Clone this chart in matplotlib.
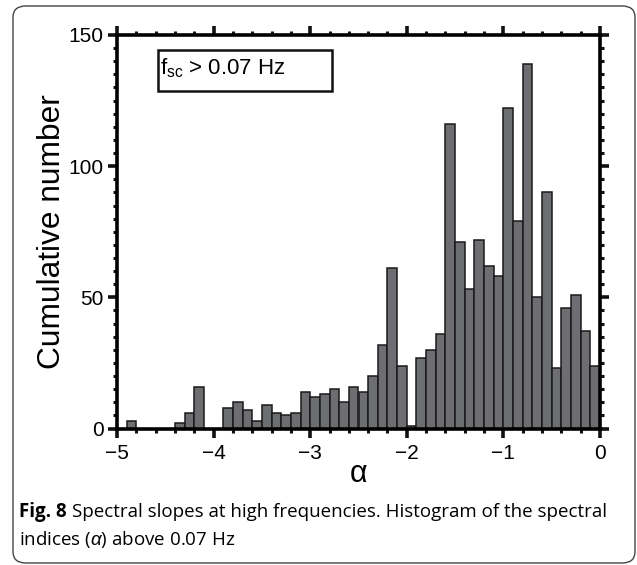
import matplotlib
matplotlib.use("Agg")
import matplotlib.pyplot as plt
import numpy as np
from matplotlib.patches import FancyBboxPatch, Rectangle
from matplotlib.ticker import MultipleLocator

plt.rcParams['font.family'] = ['Liberation Sans', 'DejaVu Sans']
plt.rcParams['mathtext.fontset'] = 'custom'
plt.rcParams['mathtext.rm'] = 'Liberation Sans'
plt.rcParams['mathtext.it'] = 'Liberation Sans:italic'
plt.rcParams['mathtext.bf'] = 'Liberation Sans:bold'

# Histogram of spectral slopes alpha: bins of width 0.1 from -5 to 0
bin_edges = np.round(np.arange(-5.0, 0.0001, 0.1), 2)
counts = [0, 3, 0, 0, 0, 0, 2, 6, 16, 0,
          0, 8, 10, 7, 3, 9, 6, 5, 6, 14,
          12, 13, 15, 10, 16, 14, 20, 32, 61, 24,
          1, 27, 30, 36, 116, 71, 53, 72, 62, 58,
          122, 79, 139, 50, 90, 23, 46, 51, 37, 24]
x_ticks = [-5, -4, -3, -2, -1, 0]
x_ticklabels = ['\u22125', '\u22124', '\u22123', '\u22122', '\u22121', '0']
y_ticks = [0, 50, 100, 150]

W, H = 637, 565
fig = plt.figure(figsize=(W / 100, H / 100), dpi=100)

# outer rounded frame
frame = FancyBboxPatch((13 / W, 1 - 563 / H), (635 - 13) / W, (563 - 6) / H,
                       boxstyle="round,pad=0,rounding_size=0.02",
                       transform=fig.transFigure, facecolor='none',
                       edgecolor='#444444', linewidth=1.0)
fig.patches.append(frame)

ax = fig.add_axes([117 / W, 1 - 428.5 / H, (600 - 117) / W, (428.5 - 35) / H])
ax.bar(bin_edges[:-1], counts, width=0.1, align='edge',
       color='#6d6e72', edgecolor='#1a1a1a', linewidth=1.1)

ax.set_xlim(-5, 0)
ax.set_ylim(0, 150)
ax.set_xticks(x_ticks)
ax.set_xticklabels(x_ticklabels)
ax.set_yticks(y_ticks)
ax.xaxis.set_minor_locator(MultipleLocator(0.2))
ax.yaxis.set_minor_locator(MultipleLocator(5))
for s in ax.spines.values():
    s.set_linewidth(2.6)
ax.tick_params(which='both', direction='out', top=True, right=True,
               labeltop=False, labelright=False, color='#111111')
ax.tick_params(which='major', length=6.5, width=2.6, labelsize=15)
ax.tick_params(axis='x', which='major', pad=5)
ax.tick_params(axis='y', which='major', pad=3)
ax.tick_params(which='minor', length=3, width=2.2)

ax.set_xlabel('\u03b1', fontsize=22, labelpad=-3)
ax.set_ylabel('Cumulative number', fontsize=22.8, labelpad=1)

# annotation box
fig.patches.append(Rectangle((157.5 / W, 1 - 90.5 / H), (332 - 157.5) / W, (90.5 - 49.5) / H,
                             transform=fig.transFigure, facecolor='white',
                             edgecolor='#111111', linewidth=1.8))
fig.text(160 / W, 1 - 68 / H, r'f$_{\rm sc}$ > 0.07 Hz', fontsize=16,
         va='center', ha='left')

# caption
cap_font = ['Open Sans', 'DejaVu Sans']
cap_size = 13.5
t1 = fig.text(19 / W, 1 - 512 / H, 'Fig. 8', fontsize=cap_size, fontweight='bold',
              family=cap_font, va='center', ha='left')
fig.canvas.draw()
bb = t1.get_window_extent(renderer=fig.canvas.get_renderer())
fig.text((bb.x1 + 5) / W, 1 - 512 / H,
         'Spectral slopes at high frequencies. Histogram of the spectral',
         fontsize=cap_size, family=cap_font, va='center', ha='left')
fig.text(19 / W, 1 - 540 / H, 'indices ($\\alpha$) above 0.07 Hz',
         fontsize=cap_size, family=cap_font, va='center', ha='left')

fig.savefig('out.png', dpi=100)
